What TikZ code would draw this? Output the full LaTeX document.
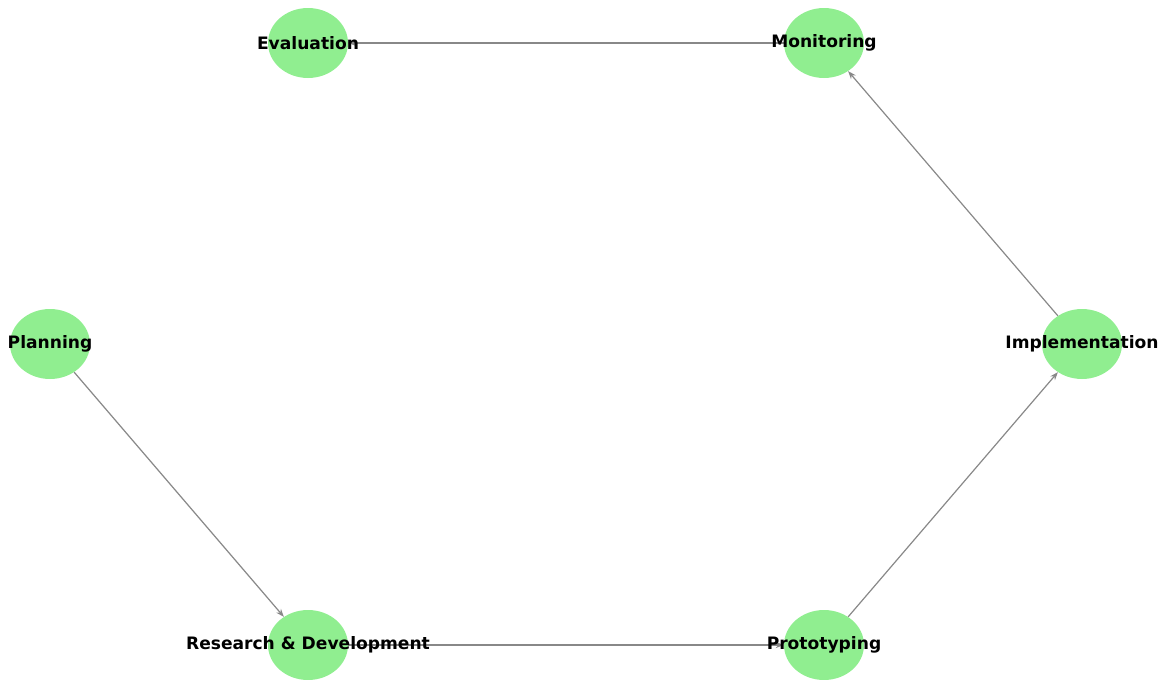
\documentclass[tikz,border=0pt]{standalone}
\usepackage{fontspec}
\setmainfont{DejaVu Sans}
\usetikzlibrary{shapes.geometric,arrows.meta}
\definecolor{nodegreen}{HTML}{90EE90}
\definecolor{edgegray}{HTML}{888888}
\tikzset{
  blob/.style={ellipse, fill=nodegreen, draw=none, minimum width=80pt, minimum height=70pt, inner sep=0pt},
  lbl/.style={font=\fontsize{17.1}{19}\selectfont\bfseries, text=black, inner sep=0pt},
  edge/.style={draw=edgegray, line width=1.2pt, -{Stealth[length=8pt,width=6pt]}}
}
\begin{document}
\begin{tikzpicture}[x=1pt,y=-1pt]
\useasboundingbox (0,0) rectangle (1168,680);
\node[blob] (ev) at (308,43) {};
\node[blob] (mo) at (824,43) {};
\node[blob] (pl) at (50,344) {};
\node[blob] (im) at (1082,344) {};
\node[blob] (rd) at (308,645) {};
\node[blob] (pr) at (824,645) {};
\draw[edge] (pl) -- (rd);
\draw[edge] (rd) -- (pr);
\draw[edge] (pr) -- (im);
\draw[edge] (im) -- (mo);
\draw[edge] (mo) -- (ev);
\node[lbl] (evl) at (ev.center) {Evaluation};
\node[lbl] (mol) at (mo.center) {Monitoring};
\node[lbl] (pll) at (pl.center) {Planning};
\node[lbl] (iml) at (im.center) {Implementation};
\node[lbl] (rdl) at (rd.center) {Research \& Development};
\node[lbl] (prl) at (pr.center) {Prototyping};
\end{tikzpicture}
\end{document}
